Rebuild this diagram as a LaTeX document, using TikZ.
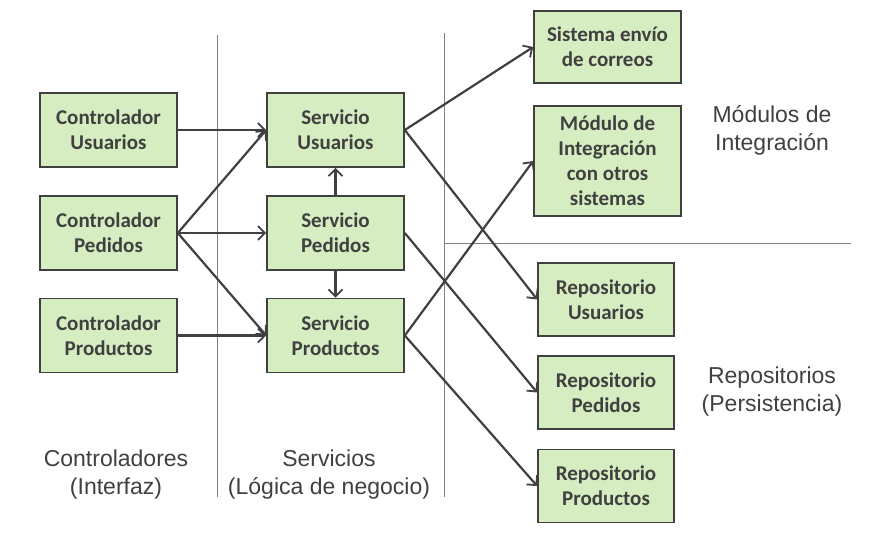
\documentclass[tikz,border=0pt]{standalone}
\usepackage{fontspec}
\setmainfont{Carlito}
\newfontfamily\labelfont{Liberation Sans}
\usetikzlibrary{arrows.meta}
\definecolor{boxfill}{HTML}{D5EDC1}
\definecolor{ink}{HTML}{404040}
\definecolor{divider}{HTML}{808080}
\tikzset{
  box/.style={draw=ink, line width=1.6pt, fill=boxfill, text=ink, align=center,
    font=\bfseries\fontsize{21}{25}\selectfont, inner sep=0pt},
  conn/.style={draw=ink, line width=2.2pt, -{Straight Barb[length=7pt,width=14pt,line width=1.8pt]}},
  lbl/.style={text=ink, align=center, font=\labelfont\fontsize{23}{28}\selectfont},
  divline/.style={draw=divider, line width=1pt}
}
\begin{document}
\begin{tikzpicture}[x=1pt,y=-1pt]
\useasboundingbox (0,0) rectangle (880,541);
% dividers
\coordinate (d1t) at (217,35); \coordinate (d1b) at (217,497);
\coordinate (d2t) at (444,33); \coordinate (d2b) at (444,497);
\coordinate (hl) at (444,243); \coordinate (hr) at (851,243);
\draw[divline] (d1t) -- (d1b);
\draw[divline] (d2t) -- (d2b);
\draw[divline] (hl) -- (hr);
% controllers
\node[box, minimum width=137pt, minimum height=74pt] (cu) at (108.5,130) {Controlador\\Usuarios};
\node[box, minimum width=137pt, minimum height=74pt] (cp) at (108.5,233) {Controlador\\Pedidos};
\node[box, minimum width=137pt, minimum height=74pt] (cpr) at (108.5,335.5) {Controlador\\Productos};
% services
\node[box, minimum width=137pt, minimum height=74pt] (su) at (335.5,130) {Servicio\\Usuarios};
\node[box, minimum width=137pt, minimum height=74pt] (sp) at (335.5,233) {Servicio\\Pedidos};
\node[box, minimum width=137pt, minimum height=74pt] (spr) at (335.5,335.5) {Servicio\\Productos};
% integration
\node[box, minimum width=147pt, minimum height=72pt] (mail) at (607.5,47) {Sistema envío\\de correos};
\node[box, minimum width=147pt, minimum height=110pt] (mod) at (607.5,161) {Módulo de\\Integración\\con otros\\sistemas};
% repositories
\node[box, minimum width=136pt, minimum height=73pt] (ru) at (606,299.5) {Repositorio\\Usuarios};
\node[box, minimum width=136pt, minimum height=73pt] (rp) at (606,392.5) {Repositorio\\Pedidos};
\node[box, minimum width=136pt, minimum height=73pt] (rpr) at (606,486) {Repositorio\\Productos};
% labels
\node[lbl] (lc) at (116,475) {Controladores\\(Interfaz)};
\node[lbl] (ls) at (329,475) {Servicios\\(Lógica de negocio)};
\node[lbl] (li) at (772,130) {Módulos de\\Integración};
\node[lbl] (lr) at (772,392) {Repositorios\\(Persistencia)};
% connectors
\draw[conn] (cu.east) -- (su.west);
\draw[conn] (cp.east) -- (su.west);
\draw[conn] (cp.east) -- (sp.west);
\draw[conn] (cp.east) -- (spr.west);
\draw[conn] (cpr.east) -- (spr.west);
\draw[conn] (sp.north) -- (su.south);
\draw[conn] (sp.south) -- (spr.north);
\draw[conn] (su.east) -- (mail.west);
\draw[conn] (su.east) -- (ru.west);
\draw[conn] (sp.east) -- (rp.west);
\draw[conn] (spr.east) -- (mod.west);
\draw[conn] (spr.east) -- (rpr.west);
\end{tikzpicture}
\end{document}
